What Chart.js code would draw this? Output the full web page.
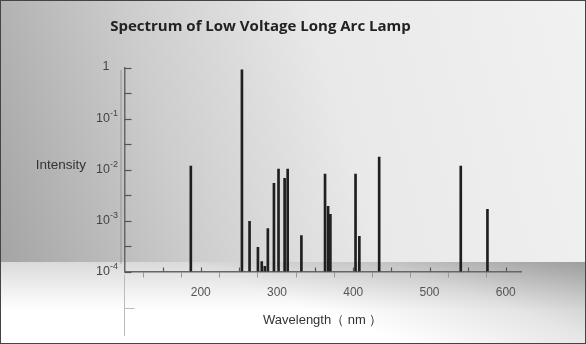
<!DOCTYPE html>
<html>
<head>
<meta charset="utf-8">
<script src="https://cdn.jsdelivr.net/npm/chart.js@4/dist/chart.umd.min.js"></script>
<style>
  body { margin: 0; }
  #wrap {
    position: relative; width: 586px; height: 344px;
    box-shadow: inset 0 0 0 1px #444;
    background:
      linear-gradient(75deg, #a4a4a4 0%, #cdcdcd 30%, #e9e9e9 58%, #f1f1f1 100%) top / 100% 262px no-repeat,
      linear-gradient(200deg, rgba(0,0,0,0.28) 0%, rgba(0,0,0,0.1) 25%, rgba(0,0,0,0) 50%) bottom / 100% 82px no-repeat,
      linear-gradient(180deg, #dadada 0%, #f4f4f4 40%, #ffffff 60%, #ffffff 100%) bottom / 100% 82px no-repeat;
  }
  canvas { position: absolute; left: 0; top: 0; }
</style>
</head>
<body>
<div id="wrap"><canvas id="spectrum" width="586" height="344"></canvas></div>
<script>
// wavelengths (nm) and relative intensities
const wavelengths = [187, 254, 264, 275, 280, 284, 288, 296, 302, 310, 314, 332, 363, 367, 370, 403, 408, 434, 541, 576];
const intensity = [0.0118, 0.92, 0.00097, 0.0003, 0.000157, 0.000126, 0.0007, 0.0054, 0.0103, 0.0068, 0.0103, 0.00051, 0.0082, 0.0019, 0.00133, 0.0082, 0.00049, 0.0177, 0.0118, 0.00167];
const xTicks = [100, 150, 200, 250, 300, 350, 400, 450, 500, 550, 600];
const xLabels = [200, 300, 400, 500, 600];
const yTicks = [1e-4, 3.16e-4, 1e-3, 3.16e-3, 1e-2, 3.16e-2, 1e-1, 3.16e-1, 1];
const yDecades = [0, -1, -2, -3, -4];

const decor = {
  id: 'decor',
  afterDraw(chart) {
    const c = chart.ctx;
    const xs = chart.scales.x, ys = chart.scales.y;
    const a = chart.chartArea;
    c.save();
    // faint ghost line left of the y axis
    c.strokeStyle = 'rgba(150,150,150,0.5)';
    c.lineWidth = 2;
    c.beginPath(); c.moveTo(a.left - 3.5, a.top + 2); c.lineTo(a.left - 3.5, a.bottom - 8); c.stroke();
    // y axis runs on below the x axis
    c.strokeStyle = '#bbb';
    c.lineWidth = 1;
    c.beginPath(); c.moveTo(a.left, a.bottom + 3); c.lineTo(a.left, 336); c.stroke();
    c.beginPath(); c.moveTo(a.left, 308.5); c.lineTo(a.left + 10, 308.5); c.stroke();
    // inside ticks on y
    c.strokeStyle = '#555';
    c.lineWidth = 1.2;
    ys.ticks.forEach(t => {
      const y = Math.round(ys.getPixelForValue(t.value)) + 0.5;
      c.beginPath(); c.moveTo(a.left, y); c.lineTo(a.left + 7, y); c.stroke();
    });
    // short ticks above the x axis
    xs.ticks.forEach(t => {
      if (t.value === 100) return;
      const x = Math.round(xs.getPixelForValue(t.value)) + 0.5;
      c.beginPath(); c.moveTo(x, a.bottom); c.lineTo(x, a.bottom - 4); c.stroke();
    });
    // decade labels as 10 with a raised exponent
    c.fillStyle = '#444';
    c.textBaseline = 'middle';
    c.textAlign = 'left';
    const big = '12.5px "Liberation Sans", Arial, sans-serif';
    const small = '9px "Liberation Sans", Arial, sans-serif';
    yDecades.forEach(p => {
      const y = ys.getPixelForValue(Math.pow(10, p)) - 1;
      c.font = big;
      if (p === 0) {
        const w = c.measureText('1').width;
        c.fillText('1', 106 - w / 2, y);
        return;
      }
      const base = '10', sup = '-' + (-p);
      const wb = c.measureText(base).width;
      c.font = small;
      const ws = c.measureText(sup).width;
      const x0 = 107 - (wb + ws) / 2;
      c.font = big;
      c.fillText(base, x0, y + 1);
      c.font = small;
      c.fillText(sup, x0 + wb, y - 4);
    });
    // y axis name, written horizontally
    c.fillStyle = '#333';
    c.font = '13.5px "Liberation Sans", Arial, sans-serif';
    c.textAlign = 'right';
    c.fillText('Intensity', 86, 165);
    c.restore();
  }
};

new Chart(document.getElementById('spectrum'), {
  type: 'bar',
  data: {
    datasets: [{
      data: wavelengths.map((w, i) => ({ x: w, y: intensity[i] })),
      backgroundColor: '#1f1f1f',
      barThickness: 2,
      base: 1e-4
    }]
  },
  plugins: [decor],
  options: {
    responsive: false,
    animation: false,
    layout: { padding: { left: 0, right: 65, top: 0, bottom: 0 } },
    plugins: {
      legend: { display: false },
      tooltip: { enabled: false },
      title: {
        display: true,
        text: 'Spectrum of Low Voltage Long Arc Lamp',
        color: '#222',
        font: { family: 'Open Sans', size: 15, weight: 'bold' },
        padding: { top: 18, bottom: 32 }
      }
    },
    scales: {
      x: {
        type: 'linear',
        min: 100,
        max: 620,
        offset: false,
        afterBuildTicks: s => { s.ticks = xTicks.map(v => ({ value: v })); },
        afterFit: s => { s.height = 72.5; },
        ticks: {
          color: '#555',
          font: { family: 'Liberation Sans', size: 12 },
          padding: 8,
          maxRotation: 0,
          autoSkip: false,
          callback: v => xLabels.includes(v) ? String(v) : ''
        },
        grid: { drawOnChartArea: false, color: '#999', tickLength: 6 },
        border: { color: '#666', width: 1.5 },
        title: {
          display: true,
          text: 'Wavelength\uFF08 nm \uFF09',
          color: '#333',
          font: { family: 'Liberation Sans', size: 13 },
          padding: { top: 4, bottom: 16 }
        }
      },
      y: {
        type: 'logarithmic',
        min: 1e-4,
        max: 1,
        afterBuildTicks: s => { s.ticks = yTicks.map(v => ({ value: v })); },
        afterFit: s => { s.width = 124.5; },
        ticks: { display: false },
        grid: { display: false },
        border: { color: '#666', width: 1.5 }
      }
    }
  }
});
</script>
</body>
</html>
